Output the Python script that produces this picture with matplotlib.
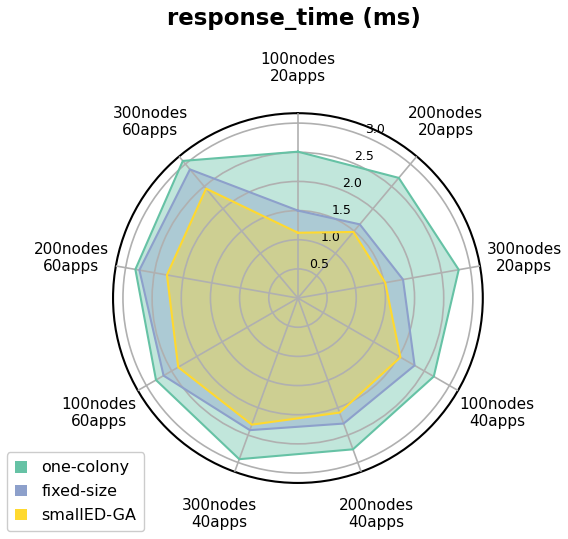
import numpy as np
import matplotlib
matplotlib.use("Agg")
import matplotlib.pyplot as plt
from matplotlib.patches import Patch

categories = ["100nodes\n20apps", "200nodes\n20apps", "300nodes\n20apps",
              "100nodes\n40apps", "200nodes\n40apps", "300nodes\n40apps",
              "100nodes\n60apps", "200nodes\n60apps", "300nodes\n60apps"]
one_colony = [2.51, 2.69, 2.80, 2.69, 2.76, 2.94, 2.81, 2.83, 3.07]
fixed_size = [1.50, 1.65, 1.83, 2.31, 2.29, 2.41, 2.66, 2.76, 2.88]
smalled_ga = [1.12, 1.48, 1.52, 2.03, 2.09, 2.31, 2.37, 2.28, 2.45]
series_names = ["one-colony", "fixed-size", "smallED-GA"]
colors = ["#66c2a5", "#8da0cb", "#ffd92f"]
rticks = [0.5, 1.0, 1.5, 2.0, 2.5, 3.0]

fig = plt.figure(figsize=(5.68, 5.39), dpi=100)
ax = fig.add_axes([0.199, 0.104, 0.651, 0.686], projection="polar")
ax.set_theta_zero_location("N")
ax.set_theta_direction(-1)

n = len(categories)
angles = np.linspace(0, 2 * np.pi, n, endpoint=False)
ang_c = np.concatenate([angles, angles[:1]])

for name, vals, c in zip(series_names, [one_colony, fixed_size, smalled_ga], colors):
    v = np.concatenate([vals, vals[:1]])
    ax.fill(ang_c, v, color=c, alpha=0.4, zorder=1, linewidth=0)
    ax.plot(ang_c, v, color=c, linewidth=1.5, zorder=3)

ax.set_xticks(angles)
ax.set_xticklabels(categories, fontsize=11)
ax.tick_params(axis="x", pad=22)
ax.set_yticks(rticks)
ax.set_yticklabels([str(t) for t in rticks], fontsize=9)
ax.set_rlabel_position(22.5)
ax.set_ylim(0, 3.17)
ax.set_axisbelow(False)
ax.grid(color="#b0b0b0", linewidth=1.2)
ax.spines["polar"].set_linewidth(1.5)

fig.text(0.518, 0.966, "response_time (ms)", ha="center", va="center",
         fontsize=16.5, fontweight="bold")

handles = [Patch(facecolor=c, edgecolor="none") for c in colors]
fig.legend(handles, series_names, loc="lower left", bbox_to_anchor=(0.012, 0.015),
           borderaxespad=0, fontsize=11.5, handlelength=0.75, handleheight=0.75,
           labelspacing=0.55, borderpad=0.5, handletextpad=0.9, framealpha=1.0)

fig.savefig("out.png", dpi=100)
